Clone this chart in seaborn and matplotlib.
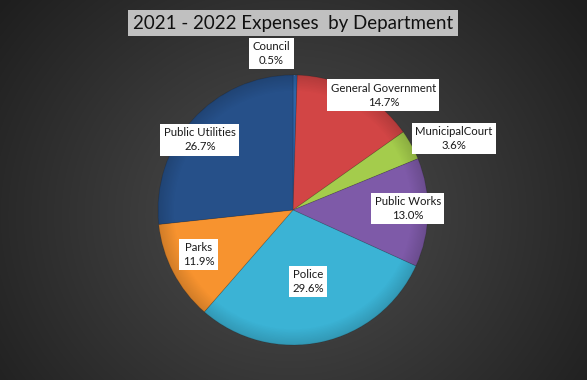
import numpy as np
import matplotlib
matplotlib.use("Agg")
import matplotlib.pyplot as plt
import matplotlib.patches as mpatches
import seaborn as sns

# ---- data ----
departments = ["Council", "General Government", "MunicipalCourt", "Public Works",
               "Police", "Parks", "Public Utilities"]
shares = [0.5, 14.7, 3.6, 13.0, 29.6, 11.9, 26.7]
title_text = "2021 - 2022 Expenses  by Department"

# ---- styles ----
colors = ["#2e64a6", "#d24545", "#a4cc4c", "#7e5aa8", "#3bb3d5", "#f7932f", "#265089"]
label_pos = [(-0.16, 1.16), (0.67, 0.85), (1.19, 0.53), (0.85, 0.01),
             (0.11, -0.53), (-0.70, -0.33), (-0.69, 0.52)]

sns.set_theme(style="dark")
plt.rcParams["font.family"] = ["Lato", "DejaVu Sans"]

W, H = 587, 380
fig = plt.figure(figsize=(W / 100, H / 100), dpi=100)

# background radial gradient
bg = fig.add_axes([0, 0, 1, 1])
yy, xx = np.mgrid[0:H, 0:W]
d = np.sqrt(((xx - 290) / 330.0) ** 2 + ((yy - 215) / 300.0) ** 2)
val = np.clip(0.31 - 0.17 * d, 0.12, 0.31)
bg.imshow(np.dstack([val, val, val]), extent=[0, 1, 0, 1], aspect="auto")
bg.set_axis_off()

# pie axes: centre at (293,210) px, radius 135 px
cx, cy, r = 293, 210, 135
ax = fig.add_axes([(cx - r) / W, (H - cy - r) / H, 2 * r / W, 2 * r / H])
wedges, _ = ax.pie(shares, colors=colors, startangle=90, counterclock=False,
                   radius=1, wedgeprops=dict(edgecolor=(0, 0, 0, 0.15), linewidth=0.6))
ax.set_xlim(-1, 1)
ax.set_ylim(-1, 1)
ax.set_aspect("auto")
ax.set_axis_off()

# subtle bevel shading
gy, gx = np.mgrid[-1:1:300j, -1:1:300j]
rr = np.sqrt(gx ** 2 + gy ** 2)
shade = np.zeros((300, 300, 4))
shade[..., 3] = np.clip((rr - 0.88) / 0.12, 0, 1) * 0.15
im = ax.imshow(shade, extent=[-1, 1, -1, 1], origin="lower", zorder=3, aspect="auto")
clip = mpatches.Circle((0, 0), 1, transform=ax.transData)
im.set_clip_path(clip)

for name, val_, (lx, ly) in zip(departments, shares, label_pos):
    ax.text(lx, ly, f"{name}\n{val_:.1f}%", ha="center", va="center",
            fontsize=8.2, color="#1a1a1a", linespacing=1.3, zorder=5,
            bbox=dict(boxstyle="square,pad=0.3", facecolor="white", edgecolor="none"))

# leader line for Council
ax.plot([0.0, 0.01], [1.11, 1.0], color="#9a9a9a", lw=0.7, zorder=4)

fig.text(cx / W, 1 - 23 / H, title_text, ha="center", va="center", fontsize=13.5,
         color="#111111",
         bbox=dict(boxstyle="square,pad=0.25", facecolor="#c0c0c0", edgecolor="none"))

fig.savefig("out.png", dpi=100)
